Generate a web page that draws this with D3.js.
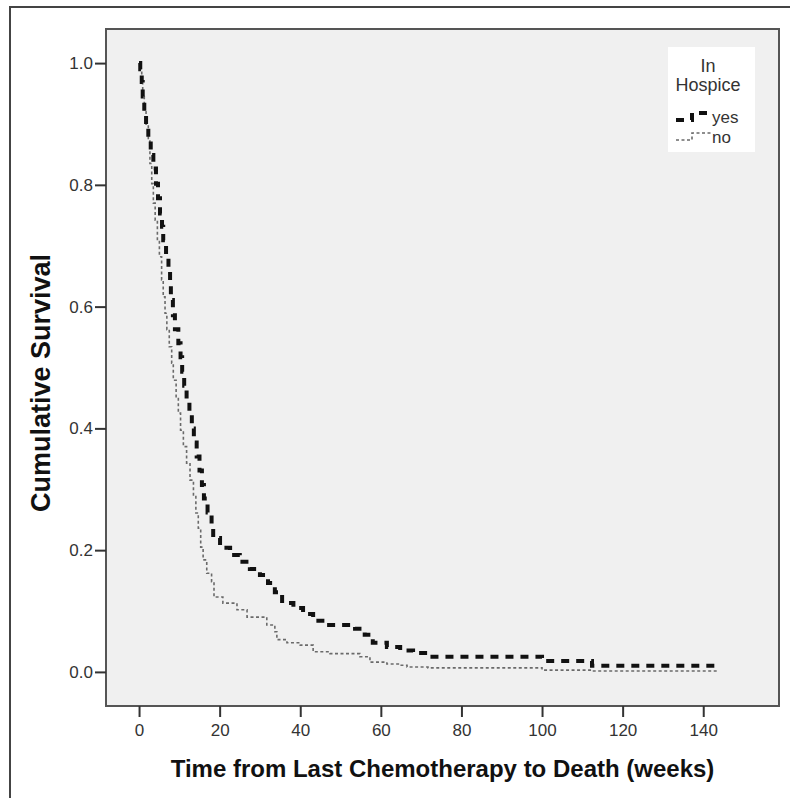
<!DOCTYPE html>
<html>
<head>
<meta charset="utf-8">
<script src="https://cdn.jsdelivr.net/npm/d3@7"></script>
<style>
  body { margin: 0; background: #fff; }
  svg { display: block; font-family: "Liberation Sans", Arial, sans-serif; }
</style>
</head>
<body>
<div id="vis"></div>
<script>
// Kaplan-Meier steps: weeks / cumulative survival
var timesYes = [0, 0.3, 0.67, 0.91, 1.3, 1.74, 2.3, 2.9, 3.55, 4.2, 4.7, 5.2, 5.7, 6.0, 6.7, 7.3, 7.7, 7.9, 8.4, 8.9,
  9.75, 10.3, 10.7, 11.2, 11.8, 12.5, 13.1, 13.6, 14.3, 15.0, 15.6, 16.1, 17.0, 18.0, 18.4, 20.1, 22.6, 25, 27.5, 30,
  32, 33.7, 35.5, 38.3, 40.7, 43.2, 46.6, 53.6, 56, 58, 61.5, 64.8, 68, 71.7, 100, 112.4, 143.7];
var survYes = [1.0, 0.99, 0.969, 0.945, 0.92, 0.898, 0.874, 0.849, 0.827, 0.802, 0.778, 0.753, 0.731, 0.709, 0.685, 0.66, 0.635, 0.611, 0.586, 0.563,
  0.54, 0.517, 0.493, 0.47, 0.447, 0.425, 0.40, 0.377, 0.354, 0.331, 0.307, 0.285, 0.262, 0.241, 0.22, 0.204, 0.192, 0.181, 0.169, 0.159,
  0.146, 0.131, 0.113, 0.105, 0.095, 0.084, 0.077, 0.071, 0.061, 0.048, 0.041, 0.035, 0.031, 0.025, 0.018, 0.01, 0.01];

var timesNo = [0, 0.3, 0.67, 0.91, 1.3, 1.74, 2.3, 2.7, 3.15, 3.55, 4.0, 4.55, 5.05, 5.6, 6.0, 6.45, 6.9, 7.5, 8.1, 8.5,
  9.2, 9.75, 10.3, 11.0, 11.8, 12.65, 13.5, 14.1, 14.7, 15.3, 15.9, 16.8, 18.0, 18.6, 20.8, 24.3, 26.8, 31.7, 33.7, 34.2,
  36.7, 40, 43.2, 47.4, 54.8, 57.3, 61.5, 64.8, 66.5, 71.7, 100, 112.4, 143.7];
var survNo = [1.0, 0.99, 0.969, 0.945, 0.92, 0.898, 0.874, 0.835, 0.802, 0.77, 0.742, 0.709, 0.682, 0.644, 0.616, 0.589, 0.562, 0.534, 0.507, 0.479,
  0.452, 0.425, 0.397, 0.37, 0.343, 0.315, 0.288, 0.261, 0.236, 0.205, 0.184, 0.162, 0.148, 0.123, 0.113, 0.102, 0.09, 0.077, 0.066, 0.053,
  0.048, 0.044, 0.033, 0.03, 0.025, 0.016, 0.013, 0.011, 0.008, 0.0066, 0.003, 0.0016, 0.0016];

var xTicks = [0, 20, 40, 60, 80, 100, 120, 140];
var yTicks = [0, 0.2, 0.4, 0.6, 0.8, 1.0];
var groups = ["yes", "no"];

var width = 790, height = 798;
var plot = { left: 106, top: 29, right: 779, bottom: 706 };

var svg = d3.select('#vis').append('svg')
  .attr('width', width)
  .attr('height', height);

// outer frame
svg.append('rect')
  .attr('x', 10).attr('y', 7)
  .attr('width', 800).attr('height', 820)
  .attr('fill', '#fff')
  .attr('stroke', '#444')
  .attr('stroke-width', 2);

var x = d3.scaleLinear().domain([-8.2, 158.8]).range([plot.left, plot.right]);
var y = d3.scaleLinear().domain([-0.056, 1.056]).range([plot.bottom, plot.top]);

// plot background
svg.append('rect')
  .attr('x', plot.left).attr('y', plot.top)
  .attr('width', plot.right - plot.left)
  .attr('height', plot.bottom - plot.top)
  .attr('fill', '#f0f0f0')
  .attr('stroke', '#555')
  .attr('stroke-width', 2);

var yAxis = svg.append('g')
  .attr('transform', 'translate(' + plot.left + ',0)')
  .call(d3.axisLeft(y).tickValues(yTicks).tickSize(11).tickPadding(2).tickFormat(d3.format('.1f')));

var xAxis = svg.append('g')
  .attr('transform', 'translate(0,' + plot.bottom + ')')
  .call(d3.axisBottom(x).tickValues(xTicks).tickSize(11).tickPadding(7));

[yAxis, xAxis].forEach(function (g) {
  g.select('.domain').remove();
  g.selectAll('.tick line').attr('stroke', '#333').attr('stroke-width', 2);
  g.selectAll('.tick text')
    .attr('fill', '#333')
    .style('font-size', '17px')
    .style('font-family', '"Liberation Sans", Arial, sans-serif');
});

var line = d3.line()
  .curve(d3.curveStepAfter)
  .x(function (d) { return x(d[0]); })
  .y(function (d) { return y(d[1]); });

var noData = d3.zip(timesNo, survNo);
var yesData = d3.zip(timesYes, survYes);

svg.append('path')
  .datum(noData)
  .attr('d', line)
  .attr('fill', 'none')
  .attr('stroke', '#6a6a6a')
  .attr('stroke-width', 1.6)
  .attr('stroke-dasharray', '3,2.5');

svg.append('path')
  .datum(yesData)
  .attr('d', line)
  .attr('fill', 'none')
  .attr('stroke', '#111')
  .attr('stroke-width', 4)
  .attr('stroke-dasharray', '8,7');

// axis titles
svg.append('text')
  .attr('x', (plot.left + plot.right) / 2)
  .attr('y', 777)
  .attr('text-anchor', 'middle')
  .style('font-size', '24px')
  .style('font-weight', 'bold')
  .attr('fill', '#111')
  .text('Time from Last Chemotherapy to Death (weeks)');

svg.append('text')
  .attr('transform', 'translate(50,383) rotate(-90)')
  .attr('text-anchor', 'middle')
  .style('font-size', '27px')
  .style('font-weight', 'bold')
  .attr('fill', '#111')
  .text('Cumulative Survival');

// legend
var legend = svg.append('g');
legend.append('rect')
  .attr('x', 668).attr('y', 47)
  .attr('width', 87).attr('height', 105)
  .attr('fill', '#fff');

legend.append('text')
  .attr('x', 708).attr('y', 72)
  .attr('text-anchor', 'middle')
  .attr('fill', '#333')
  .style('font-size', '18px')
  .text('In');
legend.append('text')
  .attr('x', 708).attr('y', 91)
  .attr('text-anchor', 'middle')
  .attr('fill', '#333')
  .style('font-size', '18px')
  .text('Hospice');

var legendStyle = {
  yes: { stroke: '#111', width: 4, dash: '8,7', y: 123 },
  no: { stroke: '#6a6a6a', width: 1.6, dash: '3,2.5', y: 143 }
};

groups.forEach(function (g) {
  var s = legendStyle[g];
  legend.append('path')
    .attr('d', 'M676,' + (s.y - 3) + 'H692V' + (s.y - 10) + 'H711')
    .attr('fill', 'none')
    .attr('stroke', s.stroke)
    .attr('stroke-width', s.width)
    .attr('stroke-dasharray', s.dash);
  legend.append('text')
    .attr('x', 712).attr('y', s.y)
    .attr('fill', '#333')
    .style('font-size', '17px')
    .text(g);
});
</script>
</body>
</html>
